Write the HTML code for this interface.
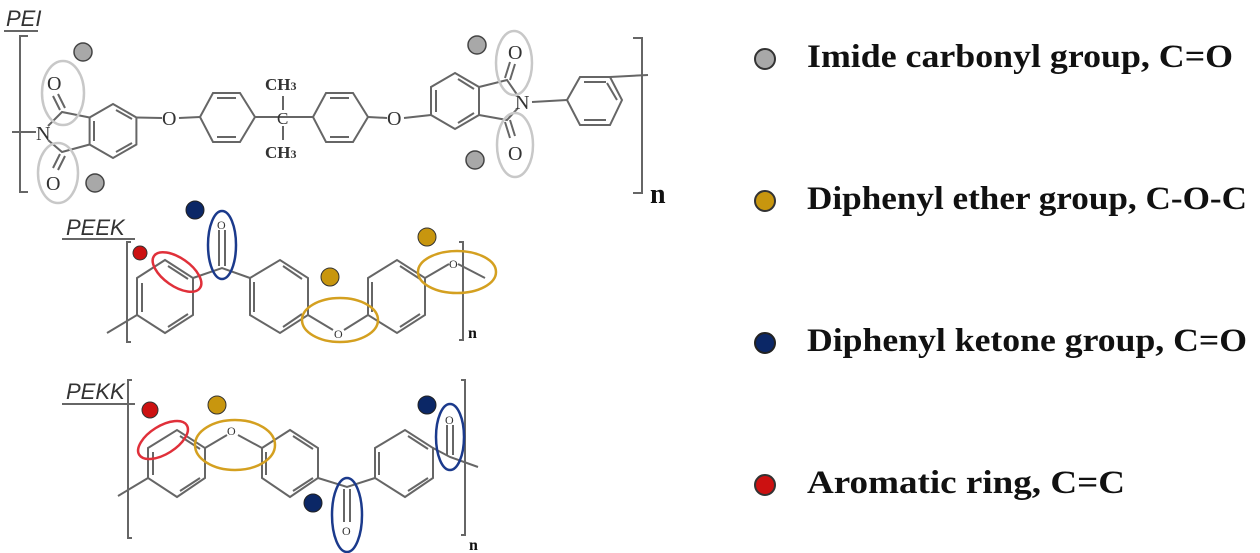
<!DOCTYPE html>
<html><head><meta charset="utf-8"><style>
html,body{margin:0;padding:0;background:#fff;width:1260px;height:553px;overflow:hidden}
svg{display:block}
.b{stroke:#666;stroke-width:2;fill:none}
.t{font-family:"Liberation Serif",serif;fill:#333}
.lg{font-family:"Liberation Serif",serif;font-weight:bold;font-size:33px;fill:#111}
.lab{font-family:"Liberation Sans",sans-serif;font-style:italic;font-size:22px;fill:#333}
</style></head><body>
<svg width="1260" height="553" viewBox="0 0 1260 553">
<!-- PEI -->
<text x="6" y="26" class="lab">PEI</text>
<line x1="4" y1="31" x2="38" y2="31" stroke="#666" stroke-width="2"/>
<path class="b" d="M28 36 H20 V192 H28" stroke-width="2.5"/>
<path class="b" d="M633 38 H642 V193 H633" stroke-width="2.5"/>
<text x="650" y="203" class="t" style="font-weight:bold;font-size:28px;fill:#111">n</text>
<g class="b">
<polygon points="113,104 136.4,117.5 136.4,144.5 113,158 89.6,144.5 89.6,117.5"/>
<polygon points="200,117 213,93 240,93 255,117 240,142 213,142"/>
<polygon points="313,117 326,93 353,93 368,117 353,142 326,142"/>
<polygon points="455,73 479,87 479,115 455,129 431,115 431,87"/>
<polygon points="567,100 580,77 610,77 622,100 610,125 580,125"/>
<line x1="94" y1="121" x2="94" y2="141"/><line x1="116" y1="110" x2="132" y2="119"/><line x1="116" y1="152" x2="132" y2="143"/>
<line x1="217" y1="98" x2="236" y2="98"/><line x1="217" y1="137" x2="236" y2="137"/>
<line x1="330" y1="98" x2="349" y2="98"/><line x1="330" y1="137" x2="349" y2="137"/>
<line x1="436" y1="90" x2="436" y2="112"/><line x1="458" y1="79" x2="474" y2="89"/><line x1="458" y1="123" x2="474" y2="113"/>
<line x1="584" y1="82" x2="606" y2="82"/><line x1="584" y1="120" x2="606" y2="120"/><line x1="617" y1="100" x2="607" y2="83"/>
<line x1="12" y1="132" x2="36" y2="132"/>
<path d="M48 126 L62 112 L89.6 117.5 M48 140 L62 152 L89.6 144.5"/>
<path d="M60 110 L53 96 M65 108 L58 94"/>
<path d="M60 154 L53 168 M65 156 L58 170"/>
<path d="M136.4 117.5 L162 118 M179 118 L200 117"/>
<path d="M255 117 L313 117 M283 96 V110 M283 126 V140"/>
<path d="M368 117 L387 118 M404 118 L431 115"/>
<path d="M479 87 L507 80 L518 96 M479 115 L507 120 L518 108"/>
<path d="M505 78 L510 62 M510 80 L515 64 M505 122 L510 138 M510 120 L515 136"/>
<path d="M532 102 L567 100 M610 77 L648 75"/>
</g>
<g class="t" font-size="20">
<text x="47" y="90">O</text><text x="46" y="190">O</text>
<text x="36" y="140">N</text>
<text x="162" y="125">O</text><text x="387" y="125">O</text>
<text x="277" y="124" font-size="17">C</text>
<text x="265" y="90" font-size="17" font-weight="bold">CH<tspan font-size="12">3</tspan></text>
<text x="265" y="158" font-size="17" font-weight="bold">CH<tspan font-size="12">3</tspan></text>
<text x="508" y="59">O</text><text x="508" y="160">O</text>
<text x="515" y="109">N</text>
</g>
<g fill="none" stroke="#c8c8c8" stroke-width="2.5">
<ellipse cx="63" cy="93" rx="21" ry="32"/>
<ellipse cx="58" cy="173" rx="20" ry="30"/>
<ellipse cx="514" cy="63" rx="18" ry="32"/>
<ellipse cx="515" cy="145" rx="18" ry="32"/>
</g>
<g fill="#a8a8a8" stroke="#444" stroke-width="1.5">
<circle cx="83" cy="52" r="9"/><circle cx="95" cy="183" r="9"/>
<circle cx="477" cy="45" r="9"/><circle cx="475" cy="160" r="9"/>
</g>

<!-- PEEK -->
<text x="66" y="235" class="lab">PEEK</text>
<line x1="62" y1="239" x2="135" y2="239" stroke="#666" stroke-width="2"/>
<path class="b" d="M131 242 H127 V342 H131"/>
<path class="b" d="M459 242 H463 V340 H459"/>
<text x="468" y="338" class="t" style="font-weight:bold;font-size:16px;fill:#111">n</text>
<g class="b" stroke-width="1.3">
<polygon points="137,278 165,260 193,278 193,315 165,333 137,315"/>
<polygon points="250,278 280,260 308,278 308,315 280,333 250,315"/>
<polygon points="368,278 397,260 425,278 425,315 397,333 368,315"/>
<path d="M142 283 V312 M168 266 L188 279 M168 327 L188 314 M254 282 V312 M283 266 L302 279 M283 327 L302 314 M372 282 V312 M400 266 L420 279 M400 327 L420 314"/>
<path d="M137 315 L107 333 M193 278 L222 268 L250 278 M219 266 V230 M225 266 V230"/>
<path d="M308 315 L333 330 M344 330 L368 315 M425 278 L449 264 M458 264 L485 278"/>
</g>
<g class="t" font-size="12"><text x="217" y="229">O</text><text x="334" y="338">O</text><text x="449" y="268">O</text></g>
<g fill="none" stroke-width="2.5">
<ellipse cx="177" cy="272" rx="28" ry="14" transform="rotate(35 177 272)" stroke="#e0303a"/>
<ellipse cx="222" cy="245" rx="14" ry="34" stroke="#1b3a8c"/>
<ellipse cx="340" cy="320" rx="38" ry="22" stroke="#d4a020"/>
<ellipse cx="457" cy="272" rx="39" ry="21" stroke="#d4a020"/>
</g>
<circle cx="140" cy="253" r="7" fill="#cc1111" stroke="#333"/>
<circle cx="195" cy="210" r="9" fill="#0b2766" stroke="#222"/>
<circle cx="330" cy="277" r="9" fill="#c8960e" stroke="#333"/>
<circle cx="427" cy="237" r="9" fill="#c8960e" stroke="#333"/>

<!-- PEKK -->
<text x="66" y="399" class="lab">PEKK</text>
<line x1="62" y1="404" x2="135" y2="404" stroke="#666" stroke-width="2"/>
<path class="b" d="M132 380 H128 V538 H132"/>
<path class="b" d="M461 380 H465 V535 H461"/>
<text x="469" y="550" class="t" style="font-weight:bold;font-size:16px;fill:#111">n</text>
<g class="b" stroke-width="1.3">
<polygon points="148,448 177,430 205,448 205,478 177,497 148,478"/>
<polygon points="262,448 290,430 318,448 318,478 290,497 262,478"/>
<polygon points="375,448 405,430 433,448 433,478 405,497 375,478"/>
<path d="M153 452 V475 M180 436 L200 449 M180 491 L200 478 M266 452 V475 M293 436 L313 449 M293 491 L313 478 M379 452 V475 M408 436 L428 449 M408 491 L428 478"/>
<path d="M148 478 L118 496 M205 448 L227 435 M238 435 L262 448"/>
<path d="M318 478 L347 487 L375 478 M344 489 V522 M350 489 V522"/>
<path d="M433 448 L450 457 L478 467 M447 455 V425 M453 455 V425"/>
</g>
<g class="t" font-size="12"><text x="227" y="435">O</text><text x="342" y="535">O</text><text x="445" y="424">O</text></g>
<g fill="none" stroke-width="2.5">
<ellipse cx="163" cy="440" rx="28" ry="14" transform="rotate(-32 163 440)" stroke="#e0303a"/>
<ellipse cx="235" cy="445" rx="40" ry="25" stroke="#d4a020"/>
<ellipse cx="347" cy="515" rx="15" ry="37" stroke="#1b3a8c"/>
<ellipse cx="450" cy="437" rx="14" ry="33" stroke="#1b3a8c"/>
</g>
<circle cx="150" cy="410" r="8" fill="#cc1111" stroke="#333"/>
<circle cx="217" cy="405" r="9" fill="#c8960e" stroke="#333"/>
<circle cx="313" cy="503" r="9" fill="#0b2766" stroke="#222"/>
<circle cx="427" cy="405" r="9" fill="#0b2766" stroke="#222"/>

<!-- legend -->
<circle cx="765" cy="59" r="10" fill="#a8a8a8" stroke="#333" stroke-width="2"/>
<text x="807" y="67" class="lg" textLength="426" lengthAdjust="spacingAndGlyphs">Imide carbonyl group, C=O</text>
<circle cx="765" cy="201" r="10" fill="#c8960e" stroke="#333" stroke-width="2"/>
<text x="807" y="209" class="lg" textLength="440" lengthAdjust="spacingAndGlyphs">Diphenyl ether group, C-O-C</text>
<circle cx="765" cy="343" r="10" fill="#0b2766" stroke="#222" stroke-width="2"/>
<text x="807" y="351" class="lg" textLength="440" lengthAdjust="spacingAndGlyphs">Diphenyl ketone group, C=O</text>
<circle cx="765" cy="485" r="10" fill="#cc1111" stroke="#333" stroke-width="2"/>
<text x="807" y="493" class="lg" textLength="318" lengthAdjust="spacingAndGlyphs">Aromatic ring, C=C</text>
</svg>
</body></html>
